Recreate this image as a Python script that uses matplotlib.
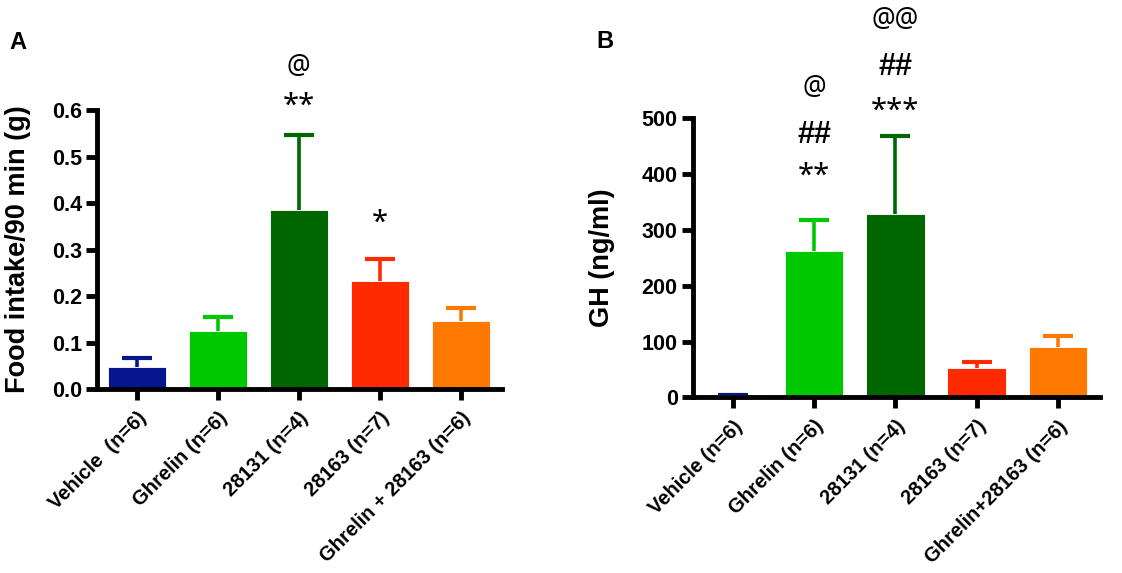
import matplotlib
matplotlib.use("Agg")
import matplotlib.pyplot as plt
import numpy as np

plt.rcParams['font.family'] = ['Liberation Sans', 'DejaVu Sans']
plt.rcParams['font.weight'] = 'bold'

# 数据
labels_a = ["Vehicle  (n=6)", "Ghrelin (n=6)", "28131 (n=4)", "28163 (n=7)", "Ghrelin + 28163 (n=6)"]
labels_b = ["Vehicle (n=6)", "Ghrelin (n=6)", "28131 (n=4)", "28163 (n=7)", "Ghrelin+28163 (n=6)"]
food_mean = [0.047, 0.125, 0.386, 0.232, 0.146]
food_sem = [0.019, 0.031, 0.161, 0.047, 0.029]
gh_mean = [4, 263, 329, 52, 90]
gh_sem = [1, 54, 139, 12, 20]
colors = ["#06168F", "#00C800", "#006600", "#FF2A00", "#FF7800"]

# 显著性标记 (柱子索引, 文本, y位置)
marks_a = [(2, "**", 0.607), (2, "@", 0.693), (3, "*", 0.356)]
marks_b = [(1, "**", 396), (1, "##", 470), (1, "@", 554),
           (2, "***", 513), (2, "##", 592), (2, "@@", 676)]

# 不同符号的字体设置: 字号, 粗细, 字体
mark_style = {"*": (21, 'normal', 'Noto Sans'),
              "#": (22, 'bold', 'Liberation Sans'),
              "@": (19, 'normal', 'Noto Sans')}

fig = plt.figure(figsize=(11.22, 5.73), dpi=100)
ax_a = fig.add_axes([0.0865, 0.321, 0.361, 0.487])
ax_b = fig.add_axes([0.6176, 0.3066, 0.3624, 0.4869])


def draw_panel(ax, means, sems, labels, ylim, yticks, ytick_fmt, ylabel, marks, labelpad):
    x = np.arange(len(means))
    for i in x:
        ax.bar(i, means[i], width=0.72, color=colors[i], edgecolor='white', linewidth=0.6, zorder=2)
        # 只画上方误差线
        top = means[i] + sems[i]
        ax.vlines(i, means[i], top, color=colors[i], linewidth=2.6, zorder=1)
        ax.hlines(top, i - 0.185, i + 0.185, color=colors[i], linewidth=3, zorder=1)
    ax.set_xlim(-0.49, 4.51)
    ax.set_ylim(*ylim)
    ax.set_yticks(yticks)
    ax.set_yticklabels([ytick_fmt.format(t) for t in yticks], fontsize=15.5, fontweight='bold')
    ax.set_xticks(x)
    ax.set_xticklabels(labels, rotation=45, ha='right', rotation_mode='anchor', fontsize=14.5, fontweight='bold')
    ax.set_ylabel(ylabel, fontsize=19.5, fontweight='bold', labelpad=labelpad)
    for s in ['top', 'right']:
        ax.spines[s].set_visible(False)
    for s in ['left', 'bottom']:
        ax.spines[s].set_linewidth(3.5)
    ax.tick_params(axis='both', width=3.5, length=8, pad=3)
    ax.tick_params(axis='x', pad=6)
    for i, txt, y in marks:
        size, weight, fam = mark_style[txt[0]]
        ax.text(i, y, txt, ha='center', va='center', fontsize=size, fontweight=weight,
                family=[fam, 'DejaVu Sans'], clip_on=False)


draw_panel(ax_a, food_mean, food_sem, labels_a, (0, 0.6), [0, 0.1, 0.2, 0.3, 0.4, 0.5, 0.6],
           "{:.1f}", "Food intake/90 min (g)", marks_a, 15)
draw_panel(ax_b, gh_mean, gh_sem, labels_b, (0, 500), [0, 100, 200, 300, 400, 500],
           "{:d}", "GH (ng/ml)", marks_b, 19)

fig.text(0.016, 0.925, "A", fontsize=17, fontweight='bold', va='center', ha='center')
fig.text(0.539, 0.927, "B", fontsize=17, fontweight='bold', va='center', ha='center')

fig.savefig("out.png", dpi=100)
